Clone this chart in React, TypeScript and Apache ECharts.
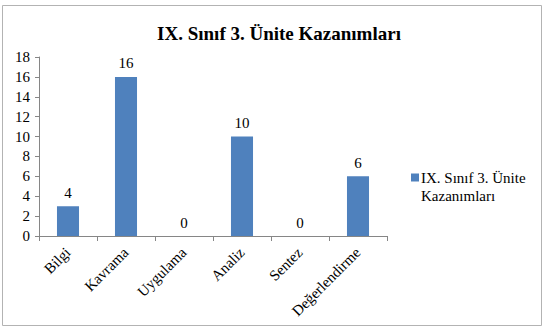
import React, { useEffect, useRef } from "react";
import * as echarts from "echarts";

const categories = ["Bilgi", "Kavrama", "Uygulama", "Analiz", "Sentez", "Değerlendirme"];
const barValues = [3, 16, 0, 10, 0, 6];
const barLabels = ["4", "16", "0", "10", "0", "6"];
const seriesName = "IX. Sınıf 3. Ünite Kazanımları";
const legendLine1 = "IX. Sınıf 3. Ünite";
const legendLine2 = "Kazanımları";
const titleText = "IX. Sınıf 3. Ünite Kazanımları";

const FONT = "Liberation Serif";

export default function App() {
  const ref = useRef<HTMLDivElement>(null);
  useEffect(() => {
    if (!ref.current) return;
    const chart = echarts.init(ref.current, null, { renderer: "svg" });
    chart.setOption({
      animation: false,
      backgroundColor: "#ffffff",
      title: {
        text: titleText,
        left: 274,
        top: 19,
        textAlign: "center",
        textStyle: { fontFamily: FONT, fontSize: 19, fontWeight: "bold", color: "#000" },
      },
      graphic: [
        {
          type: "rect",
          shape: { x: 2.5, y: 5.5, width: 539, height: 320 },
          style: { fill: "none", stroke: "#b3b3b3", lineWidth: 1 },
          silent: true,
        },
        {
          type: "text",
          x: 421,
          y: 196,
          style: {
            text: legendLine2,
            fontFamily: FONT,
            fontSize: 15,
            fill: "#000",
            verticalAlign: "middle",
            align: "left",
          },
          silent: true,
        },
      ],
      legend: {
        left: 406,
        top: 165,
        orient: "vertical",
        itemWidth: 8,
        itemHeight: 8,
        itemGap: 4,
        icon: "rect",
        data: [seriesName],
        formatter: () => legendLine1,
        textStyle: { fontFamily: FONT, fontSize: 15, color: "#000", padding: [0, 0, 0, -3] },
      },
      grid: { left: 39, right: 162, top: 57, bottom: 93, containLabel: false },
      xAxis: {
        type: "category",
        data: categories,
        boundaryGap: true,
        axisLine: { lineStyle: { color: "#868686" } },
        axisTick: { show: true, alignWithLabel: false, length: 5, lineStyle: { color: "#868686" } },
        axisLabel: {
          rotate: 45,
          interval: 0,
          margin: 14,
          fontFamily: FONT,
          fontSize: 15,
          color: "#000",
        },
      },
      yAxis: {
        type: "value",
        min: 0,
        max: 18,
        interval: 2,
        axisLine: { show: true, lineStyle: { color: "#868686" } },
        axisTick: { show: true, length: 4, lineStyle: { color: "#868686" } },
        splitLine: { show: false },
        axisLabel: { fontFamily: FONT, fontSize: 15, color: "#000", margin: 9 },
      },
      series: [
        {
          name: seriesName,
          type: "bar",
          data: barValues,
          barWidth: "38%",
          itemStyle: { color: "#4F81BD" },
          label: {
            show: true,
            position: "top",
            distance: 6,
            fontFamily: FONT,
            fontSize: 15,
            fontWeight: "normal",
            color: "#000",
            formatter: (p: any) => barLabels[p.dataIndex],
          },
        },
      ],
    });
    return () => chart.dispose();
  }, []);
  return (
    <div
      ref={ref}
      style={{ position: "absolute", left: 0, top: 0, width: 549, height: 329 }}
    />
  );
}
